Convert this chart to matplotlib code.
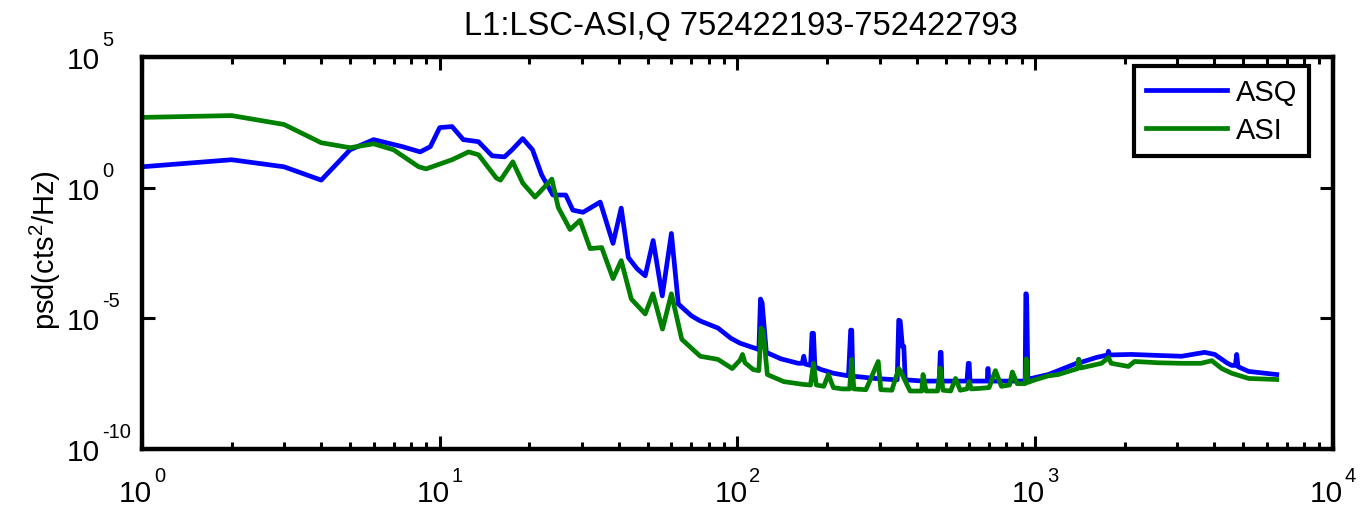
import matplotlib
matplotlib.use("Agg")
import matplotlib.pyplot as plt
from matplotlib.ticker import LogLocator, NullLocator
import numpy as np

plt.rcParams['font.family'] = ['Liberation Sans', 'DejaVu Sans']
plt.rcParams['mathtext.fontset'] = 'custom'
plt.rcParams['mathtext.rm'] = 'Liberation Sans'
plt.rcParams['mathtext.it'] = 'Liberation Sans:italic'
plt.rcParams['mathtext.bf'] = 'Liberation Sans:bold'

TITLE = "L1:LSC-ASI,Q 752422193-752422793"
X_EXPS = [0, 1, 2, 3, 4]
Y_EXPS = [-10, -5, 0, 5]

# ASQ channel, frequency (Hz) and log10 of psd
freq_asq = [1, 2, 3, 4, 5, 6, 7.5, 8.6, 9.3, 10, 11, 12, 13.5, 15, 16.5, 17.5, 19,
            20.5, 22, 24, 26.5, 28, 30.3, 34.6, 38.2, 40.7, 43, 46, 49, 52.1, 55.9,
            60, 63.3, 70, 75, 86, 95, 102, 115, 118, 119.5, 121, 125, 140, 160, 165,
            167, 169, 176, 178, 180, 182, 190, 210, 236, 240, 242, 244, 248, 290,
            340, 344, 348, 352, 358, 362, 366, 420, 476, 480, 483, 486, 590, 596,
            600, 604, 690, 693, 695, 698, 800, 925, 930, 933, 937, 945, 970, 1106,
            1195, 1390, 1400, 1410, 1600, 1750, 1762, 1775, 2105, 2600, 3103, 3706,
            4008, 4400, 4570, 4700, 4750, 4800, 5210, 6475]
log_asq = [0.8, 1.07, 0.8, 0.29, 1.45, 1.84, 1.57, 1.37, 1.57, 2.3, 2.34, 1.84, 1.76,
           1.22, 1.18, 1.45, 1.88, 1.45, 0.49, -0.28, -0.28, -0.86, -0.94, -0.55,
           -2.13, -0.78, -2.67, -3.1, -3.37, -2.02, -4.14, -1.75, -4.45, -4.9, -5.1,
           -5.37, -5.76, -5.95, -6.15, -6.2, -4.26, -4.4, -6.3, -6.55, -6.72, -6.72,
           -6.45, -6.75, -6.8, -5.57, -5.57, -6.85, -6.95, -7.1, -7.2, -5.45, -5.45,
           -7.2, -7.22, -7.3, -7.35, -7.35, -5.07, -5.1, -6.07, -6.07, -7.35, -7.4,
           -7.4, -6.3, -6.3, -7.4, -7.4, -6.72, -6.72, -7.4, -7.4, -6.92, -6.92,
           -7.4, -7.4, -7.4, -4.06, -4.06, -4.5, -7.35, -7.3, -7.15, -7.0, -6.7,
           -6.57, -6.7, -6.5, -6.4, -6.26, -6.4, -6.38, -6.42, -6.45, -6.3, -6.38,
           -6.7, -6.8, -6.8, -6.38, -6.85, -7.03, -7.15]

# ASI channel
freq_asi = [1, 2, 3, 4, 5, 6, 7, 8.5, 9, 11, 12.5, 13.5, 15.5, 16, 17.6, 19, 20.9,
            23.8, 25, 27.4, 29.6, 32, 35, 38.2, 40.7, 44, 49, 52, 56, 60, 65, 75, 86,
            96, 102, 104, 106, 113, 118, 120, 122, 126, 143, 167, 176, 180, 184, 195,
            202, 210, 225, 238, 242, 246, 270, 297, 303, 330, 348, 352, 380, 416, 420,
            430, 470, 480, 490, 520, 540, 560, 590, 600, 610, 650, 700, 735, 770, 820,
            838, 870, 925, 933, 945, 1000, 1106, 1195, 1390, 1400, 1420, 1670, 1762,
            1800, 2056, 2155, 2600, 3103, 3600, 3920, 4230, 4570, 5210, 6475]
log_asi = [2.69, 2.76, 2.42, 1.72, 1.53, 1.68, 1.45, 0.8, 0.72, 1.07, 1.37, 1.26,
           0.37, 0.29, 0.99, 0.18, -0.36, 0.33, -0.75, -1.6, -1.25, -2.33, -2.29,
           -3.48, -2.79, -4.26, -4.83, -4.06, -5.41, -4.06, -5.8, -6.45, -6.57,
           -6.92, -6.6, -6.38, -6.7, -6.96, -7.0, -5.37, -5.5, -7.15, -7.42, -7.53,
           -7.55, -6.72, -7.55, -7.6, -7.15, -7.65, -7.7, -7.7, -6.57, -7.7, -7.73,
           -6.65, -7.73, -7.75, -6.92, -7.0, -7.78, -7.78, -7.15, -7.78, -7.78, -6.9,
           -7.75, -7.78, -7.3, -7.75, -7.7, -7.42, -7.7, -7.68, -7.65, -7.0, -7.6,
           -7.55, -7.05, -7.5, -7.5, -6.55, -7.45, -7.35, -7.2, -7.15, -6.92, -6.57,
           -6.9, -6.72, -6.5, -6.72, -6.84, -6.65, -6.7, -6.72, -6.72, -6.62, -6.92,
           -7.1, -7.3, -7.34]

BASE_FS = 21.5   # "10" of tick labels
SUP_FS = 14.5    # exponent
PX = 0.72        # points per pixel at dpi 100

fig = plt.figure(figsize=(13.61, 5.10), dpi=100)
ax = fig.add_axes([0.1043, 0.1176, 0.8751, 0.7686])

ax.loglog(freq_asq, 10.0 ** np.array(log_asq), color=(0, 0, 1), lw=3.4, label='ASQ')
ax.loglog(freq_asi, 10.0 ** np.array(log_asi), color=(0, 0.5, 0), lw=3.4, label='ASI')

ax.set_xlim(1, 1e4)
ax.set_ylim(1e-10, 1e5)
ax.xaxis.set_major_locator(LogLocator(base=10, numticks=10))
ax.xaxis.set_minor_locator(LogLocator(base=10, subs=np.arange(2, 10), numticks=20))
ax.yaxis.set_major_locator(LogLocator(base=1e5, numticks=10))
ax.yaxis.set_minor_locator(NullLocator())

for s in ax.spines.values():
    s.set_linewidth(3.2)
ax.tick_params(which='both', direction='in', top=True, right=True, width=2.2,
               labelbottom=False, labelleft=False)
ax.tick_params(which='major', length=9.5)
ax.tick_params(which='minor', length=5)


def sup_width(s):
    # rough width of the exponent in pixels (Helvetica metrics)
    em = SUP_FS / PX
    return sum(0.333 * em if c == '-' else 0.556 * em for c in s)


# MATLAB-style tick labels: big "10" with a small raised exponent
w10 = 2 * 0.556 * BASE_FS / PX
for e in X_EXPS:
    sup = str(e)
    junction = (w10 - 2 - sup_width(sup)) / 2
    ax.annotate('10', xy=(10.0 ** e, 0), xycoords=ax.get_xaxis_transform(),
                xytext=(junction * PX, -52 * PX), textcoords='offset points',
                ha='right', va='baseline', fontsize=BASE_FS, annotation_clip=False)
    ax.annotate(sup, xy=(10.0 ** e, 0), xycoords=ax.get_xaxis_transform(),
                xytext=((junction + 2) * PX, -32 * PX), textcoords='offset points',
                ha='left', va='baseline', fontsize=SUP_FS, annotation_clip=False)

for e in Y_EXPS:
    ax.annotate('10', xy=(0, 10.0 ** e), xycoords=ax.get_yaxis_transform(),
                xytext=(-42 * PX, -11 * PX), textcoords='offset points',
                ha='right', va='baseline', fontsize=BASE_FS, annotation_clip=False)
    ax.annotate(str(e), xy=(0, 10.0 ** e), xycoords=ax.get_yaxis_transform(),
                xytext=(-40 * PX, 12 * PX), textcoords='offset points',
                ha='left', va='baseline', fontsize=SUP_FS, annotation_clip=False)

fig.text(741 / 1361, 1 - 35 / 510, TITLE, fontsize=23.5, ha='center', va='baseline')
fig.text(45 / 1361, 1 - 250 / 510, 'psd(cts$^2$/Hz)', fontsize=21, rotation=90,
         ha='center', va='center')

leg = ax.legend(loc='upper right', bbox_to_anchor=(0.98, 0.977), borderaxespad=0,
                fontsize=21, fancybox=False, handlelength=2.8, handletextpad=0.3,
                labelspacing=0.35, borderpad=0.4)
leg.get_frame().set_edgecolor('black')
leg.get_frame().set_linewidth(3.0)
leg.get_frame().set_alpha(1)

fig.savefig('out.png', dpi=100)
